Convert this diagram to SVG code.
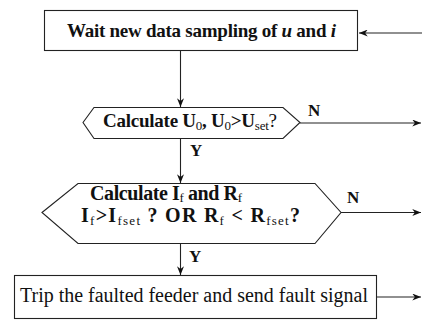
<svg xmlns="http://www.w3.org/2000/svg" width="422" height="321" viewBox="0 0 422 321">
<defs>
<marker id="ah" viewBox="0 0 10 8" refX="10" refY="4" markerWidth="9" markerHeight="7" orient="auto" markerUnits="userSpaceOnUse">
<path d="M0,0 L10,4 L0,8 L3,4 z" fill="#111"/>
</marker>
<style>
.shape{fill:#fff;stroke:#222;stroke-width:1.1}
.t{font-family:"Liberation Serif","Times New Roman",serif;font-size:19px;font-weight:bold;fill:#111}
.h{font-size:20px}
.tn{font-family:"Liberation Serif","Times New Roman",serif;font-size:20px;font-weight:normal;fill:#111}
.sub{font-weight:normal;font-size:13px}
.lbl{font-family:"Liberation Serif","Times New Roman",serif;font-size:17px;font-weight:bold;fill:#111}
.conn{fill:none;stroke:#222;stroke-width:1.1;marker-end:url(#ah)}
</style>
</defs>
<rect width="422" height="321" fill="#fff"/>
<g id="wait">
<rect class="shape" x="44.5" y="10.5" width="313" height="40"/>
<text class="t" x="67" y="37" textLength="269" lengthAdjust="spacing">Wait new data sampling of <tspan font-style="italic">u</tspan> and <tspan font-style="italic">i</tspan></text>
</g>
<g id="checkU0">
<polygon class="shape" points="83,122.5 94,107.5 283,107.5 300,122.5 283,138.5 94,138.5"/>
<text class="t" x="103" y="127" textLength="174" lengthAdjust="spacing">Calculate U<tspan class="sub" dy="3">0</tspan><tspan dy="-3">, U</tspan><tspan class="sub" dy="3">0</tspan><tspan dy="-3">&gt;U</tspan><tspan class="sub" dy="3">set</tspan><tspan dy="-3" style="font-weight:normal">?</tspan></text>
</g>
<g id="checkIf">
<polygon class="shape" points="42,212.5 78,183.5 315,183.5 341,212.5 315,243.5 78,243.5"/>
<text class="t h" x="90" y="200" textLength="152" lengthAdjust="spacing">Calculate I<tspan class="sub" dy="2">f</tspan><tspan dy="-2"> and R</tspan><tspan class="sub" dy="2">f</tspan></text>
<text class="t h" x="81" y="222" textLength="219" lengthAdjust="spacing">I<tspan class="sub" dy="3">f</tspan><tspan dy="-3">&gt;I</tspan><tspan class="sub" dy="3">fset</tspan><tspan dy="-3"> ? OR  R</tspan><tspan class="sub" dy="3">f</tspan><tspan dy="-3"> &lt; R</tspan><tspan class="sub" dy="3">fset</tspan><tspan dy="-3">?</tspan></text>
</g>
<g id="trip">
<rect class="shape" x="14.5" y="275.5" width="362" height="43"/>
<text class="tn" x="20" y="302" textLength="348" lengthAdjust="spacingAndGlyphs">Trip the faulted feeder and send fault signal</text>
</g>
<g id="connectors">
<line class="conn" x1="422" y1="33" x2="359" y2="33"/>
<line class="conn" x1="180.5" y1="51" x2="180.5" y2="107"/>
<line class="conn" x1="180.5" y1="139" x2="180.5" y2="183"/>
<line class="conn" x1="180.5" y1="244" x2="180.5" y2="275"/>
<line class="conn" x1="300" y1="123" x2="421" y2="123"/>
<line class="conn" x1="341" y1="212.5" x2="421" y2="212.5"/>
<line class="conn" x1="377" y1="297" x2="421" y2="297"/>
<text class="lbl" x="308" y="116">N</text>
<text class="lbl" x="190" y="156">Y</text>
<text class="lbl" x="347" y="203">N</text>
<text class="lbl" x="189" y="262">Y</text>
</g>
</svg>
